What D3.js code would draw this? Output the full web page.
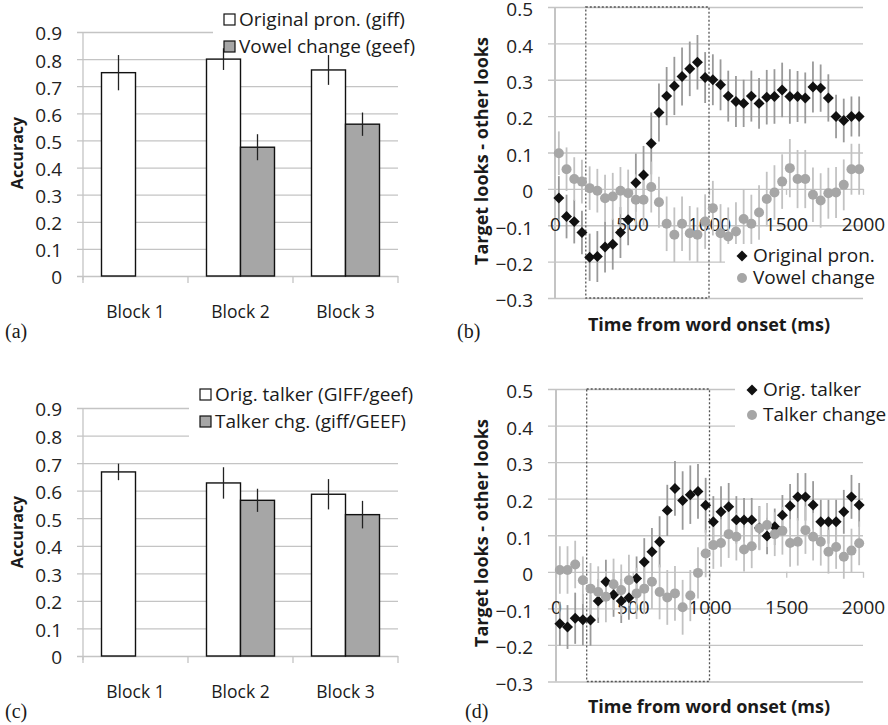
<!DOCTYPE html>
<html>
<head>
<meta charset="utf-8">
<script src="https://cdn.jsdelivr.net/npm/d3@7"></script>
<style>
  body { margin: 0; background: #fff; }
  svg { display: block; }
  text { font-family: "Open Sans", Lato, sans-serif; fill: #1a1a1a; }
</style>
</head>
<body>
<svg width="888" height="725"></svg>
<script>
var width = 888;
var height = 725;

// ---- bar charts (a) and (c)
var blocks = ['Block 1', 'Block 2', 'Block 3'];
var accTicks = [0, 0.1, 0.2, 0.3, 0.4, 0.5, 0.6, 0.7, 0.8, 0.9];

var aOrig = [0.75, 0.80, 0.76];
var aOrigErr = [0.065, 0.04, 0.055];
var aVowel = [null, 0.475, 0.56];
var aVowelErr = [null, 0.048, 0.043];

var cOrig = [0.668, 0.628, 0.587];
var cOrigErr = [0.03, 0.057, 0.055];
var cTalker = [null, 0.565, 0.513];
var cTalkerErr = [null, 0.042, 0.05];

// ---- eye tracking time courses (b) and (d)
var timeMs = [25, 75, 125, 175, 225, 275, 325, 375, 425, 475,
              525, 575, 625, 675, 725, 775, 825, 875, 925, 975,
              1025, 1075, 1125, 1175, 1225, 1275, 1325, 1375, 1425, 1475,
              1525, 1575, 1625, 1675, 1725, 1775, 1825, 1875, 1925, 1975];
var timeTicks = [0, 500, 1000, 1500, 2000];
var lookTicks = [-0.3, -0.2, -0.1, 0, 0.1, 0.2, 0.3, 0.4, 0.5];

var bOrig = [-0.025, -0.076, -0.09, -0.12, -0.188, -0.186, -0.16, -0.152, -0.12, -0.085,
             0.017, 0.038, 0.125, 0.21, 0.255, 0.283, 0.309, 0.33, 0.348, 0.306,
             0.30, 0.286, 0.255, 0.24, 0.235, 0.255, 0.235, 0.252, 0.254, 0.272,
             0.254, 0.254, 0.25, 0.28, 0.277, 0.25, 0.199, 0.188, 0.199, 0.199];
var bOrigErr = [0.06, 0.06, 0.06, 0.06, 0.065, 0.07, 0.07, 0.07, 0.07, 0.07,
                0.08, 0.08, 0.085, 0.08, 0.08, 0.08, 0.08, 0.075, 0.075, 0.07,
                0.07, 0.07, 0.07, 0.07, 0.065, 0.07, 0.07, 0.075, 0.075, 0.075,
                0.075, 0.07, 0.07, 0.07, 0.065, 0.065, 0.06, 0.06, 0.055, 0.055];
var bVowel = [0.098, 0.054, 0.027, 0.02, 0.002, -0.005, -0.026, -0.021, -0.005, -0.012,
              -0.03, -0.03, 0.005, -0.037, -0.096, -0.126, -0.096, -0.122, -0.126, -0.09,
              -0.053, -0.122, -0.131, -0.117, -0.083, -0.096, -0.065, -0.028, -0.01, 0.02,
              0.057, 0.027, 0.027, -0.016, -0.032, -0.012, -0.01, 0.011, 0.054, 0.054];
var bVowelErr = [0.06, 0.06, 0.06, 0.06, 0.06, 0.06, 0.065, 0.065, 0.065, 0.065,
                 0.07, 0.07, 0.07, 0.07, 0.075, 0.075, 0.075, 0.075, 0.075, 0.075,
                 0.075, 0.08, 0.08, 0.08, 0.08, 0.08, 0.075, 0.075, 0.075, 0.075,
                 0.08, 0.08, 0.08, 0.075, 0.075, 0.07, 0.07, 0.07, 0.07, 0.07];

var dOrig = [-0.142, -0.151, -0.127, -0.131, -0.132, -0.08, -0.027, -0.063, -0.08, -0.071,
             -0.018, 0.027, 0.055, 0.082, 0.168, 0.228, 0.195, 0.211, 0.22, 0.182,
             0.137, 0.164, 0.178, 0.142, 0.142, 0.142, 0.12, 0.098, 0.123, 0.155,
             0.18, 0.205, 0.205, 0.183, 0.137, 0.137, 0.137, 0.164, 0.205, 0.183];
var dOrigErr = [0.06, 0.06, 0.07, 0.07, 0.07, 0.06, 0.06, 0.06, 0.06, 0.06,
                0.06, 0.065, 0.065, 0.07, 0.07, 0.075, 0.08, 0.08, 0.075, 0.075,
                0.07, 0.07, 0.065, 0.065, 0.06, 0.06, 0.06, 0.05, 0.05, 0.055,
                0.06, 0.065, 0.065, 0.065, 0.06, 0.06, 0.06, 0.06, 0.06, 0.06];
var dTalker = [0.005, 0.005, 0.02, -0.023, -0.046, -0.055, -0.068, -0.034, -0.05, -0.023,
               -0.059, -0.046, -0.027, -0.055, -0.07, -0.059, -0.097, -0.065, -0.003, 0.05,
               0.073, 0.079, 0.103, 0.096, 0.061, 0.07, 0.119, 0.128, 0.103, 0.112,
               0.079, 0.082, 0.114, 0.096, 0.082, 0.055, 0.068, 0.041, 0.058, 0.078];
var dTalkerErr = [0.065, 0.065, 0.065, 0.065, 0.07, 0.07, 0.07, 0.07, 0.07, 0.07,
                  0.07, 0.07, 0.075, 0.075, 0.075, 0.075, 0.075, 0.07, 0.07, 0.065,
                  0.065, 0.065, 0.065, 0.065, 0.06, 0.06, 0.06, 0.06, 0.06, 0.065,
                  0.065, 0.065, 0.065, 0.065, 0.065, 0.06, 0.06, 0.06, 0.06, 0.06];

var gridColor = '#c4c4c4';
var greyFill = '#a6a6a6';

var svg = d3.select('svg')
      .attr('width', width)
      .attr('height', height);

function barPanel(o) {
  var g = svg.append('g');

  var yScale = d3.scaleLinear()
        .domain([0, 0.9])
        .range([o.y0, o.y9]);

  var xScale = d3.scaleBand()
        .domain(blocks)
        .range([83, 398]);

  var sub = d3.scaleBand()
        .domain([0, 1])
        .range([0, xScale.bandwidth()])
        .paddingOuter(0.544);

  var yAxis = d3.axisLeft(yScale)
        .tickValues(accTicks)
        .tickSize(-(398 - 77))
        .tickPadding(15)
        .tickFormat(d => d === 0 ? '0' : d3.format('.1f')(d));

  var ax = g.append('g')
    .attr('transform', 'translate(77,0)')
    .call(yAxis);
  ax.select('.domain').remove();
  ax.selectAll('line').attr('stroke', gridColor).attr('stroke-width', 1.3);
  ax.selectAll('text').attr('dy', '0.42em').style('font-size', '19px').style('fill', '#222');

  // vertical axis line
  g.append('line')
    .attr('x1', 83).attr('x2', 83)
    .attr('y1', o.y9).attr('y2', o.y0 + 4)
    .attr('stroke', gridColor).attr('stroke-width', 1.3);

  // category ticks
  var edges = blocks.map(b => xScale(b)).concat([xScale.range()[1]]);
  g.selectAll('.ctick')
    .data(edges)
    .enter()
    .append('line')
      .attr('x1', d => d).attr('x2', d => d)
      .attr('y1', o.y0).attr('y2', o.y0 + 7)
      .attr('stroke', gridColor).attr('stroke-width', 1.3);

  g.selectAll('.clabel')
    .data(blocks)
    .enter()
    .append('text')
      .attr('x', d => xScale(d) + xScale.bandwidth() / 2)
      .attr('y', o.labelY)
      .style('text-anchor', 'middle')
      .style('font-size', '17.5px')
      .text(d => d);

  // legend background hides grid lines behind it
  g.append('rect')
    .attr('x', o.legX - 11).attr('y', o.legTop)
    .attr('width', 440 - o.legX).attr('height', o.legBottom - o.legTop)
    .attr('fill', '#fff');

  var series = [
    { vals: o.s1, errs: o.e1, fill: '#fff' },
    { vals: o.s2, errs: o.e2, fill: greyFill }
  ];

  series.forEach(function(s, si) {
    var rows = blocks.map((b, i) => ({ b: b, v: s.vals[i], e: s.errs[i] })).filter(r => r.v !== null);
    g.selectAll('.bar' + si)
      .data(rows)
      .enter()
      .append('rect')
        .attr('x', d => xScale(d.b) + sub(si))
        .attr('y', d => yScale(d.v))
        .attr('width', sub.bandwidth())
        .attr('height', d => yScale(0) - yScale(d.v))
        .attr('fill', s.fill)
        .attr('stroke', '#111')
        .attr('stroke-width', 1.4);
    g.selectAll('.err' + si)
      .data(rows)
      .enter()
      .append('line')
        .attr('x1', d => xScale(d.b) + sub(si) + sub.bandwidth() / 2)
        .attr('x2', d => xScale(d.b) + sub(si) + sub.bandwidth() / 2)
        .attr('y1', d => yScale(d.v + d.e))
        .attr('y2', d => yScale(d.v - d.e))
        .attr('stroke', '#222')
        .attr('stroke-width', 1.3);
  });

  // legend
  [o.leg1, o.leg2].forEach(function(label, i) {
    var yy = o.legY[i];
    g.append('rect')
      .attr('x', o.legX).attr('y', yy - 12)
      .attr('width', 11).attr('height', 11)
      .attr('fill', i === 0 ? '#fff' : greyFill)
      .attr('stroke', '#111').attr('stroke-width', 1.2);
    g.append('text')
      .attr('x', o.legX + 15).attr('y', yy)
      .style('font-size', '19px')
      .text(label);
  });

  //y-axis label
  g.append('text')
    .attr('transform', `translate(17,${o.titleY}) rotate(-90)`)
    .attr('dy', '0.35em')
    .style('text-anchor', 'middle')
    .style('font-size', '16px')
    .style('font-weight', 'bold')
    .text('Accuracy');

  g.append('text')
    .attr('x', 5).attr('y', o.tagY)
    .style('font-family', '"Liberation Serif", "DejaVu Serif", serif')
    .style('font-size', '20px')
    .text(o.tag);
}

function scatterPanel(o) {
  var g = svg.append('g');

  var yScale = d3.scaleLinear()
        .domain([-0.3, 0.5])
        .range([o.yb, o.yt]);

  var xScale = d3.scaleLinear()
        .domain([0, 2000])
        .range([o.x0, o.x1]);

  var yAxis = d3.axisLeft(yScale)
        .tickValues(lookTicks)
        .tickSize(-(o.x1 - 548))
        .tickPadding(15)
        .tickFormat(d => d === 0 ? '0' : d3.format('.1f')(d));

  var ax = g.append('g')
    .attr('transform', 'translate(548,0)')
    .call(yAxis);
  ax.select('.domain').remove();
  ax.selectAll('line').attr('stroke', gridColor).attr('stroke-width', 1.3);
  ax.selectAll('text').attr('dy', '0.46em').style('font-size', '19px').style('fill', '#222');

  // vertical axis at time 0
  g.append('line')
    .attr('x1', xScale(0)).attr('x2', xScale(0))
    .attr('y1', o.yt).attr('y2', o.yb)
    .attr('stroke', gridColor).attr('stroke-width', 2);

  // time axis along zero
  var xAxis = d3.axisBottom(xScale)
        .tickValues(timeTicks)
        .tickSize(6)
        .tickPadding(23)
        .tickFormat(d3.format('d'));
  var xa = g.append('g')
    .attr('transform', `translate(0,${yScale(0)})`)
    .call(xAxis);
  xa.select('.domain').remove();
  xa.selectAll('line').attr('stroke', gridColor).attr('stroke-width', 1.3);
  xa.selectAll('text').style('font-size', '19px').style('fill', '#222');

  // analysis window
  g.append('rect')
    .attr('x', xScale(200)).attr('y', yScale(0.5))
    .attr('width', xScale(1000) - xScale(200))
    .attr('height', yScale(-0.3) - yScale(0.5))
    .attr('fill', 'none')
    .attr('stroke', '#555')
    .attr('stroke-width', 1.3)
    .attr('stroke-dasharray', '2,2');

  var rows1 = timeMs.map((t, i) => ({ t: t, v: o.s1[i], e: o.e1[i] }));
  var rows2 = timeMs.map((t, i) => ({ t: t, v: o.s2[i], e: o.e2[i] }));

  g.selectAll('.err1')
    .data(rows1)
    .enter()
    .append('line')
      .attr('x1', d => xScale(d.t)).attr('x2', d => xScale(d.t))
      .attr('y1', d => yScale(d.v + d.e)).attr('y2', d => yScale(d.v - d.e))
      .attr('stroke', '#9a9a9a').attr('stroke-width', 1.8);
  g.selectAll('.err2')
    .data(rows2)
    .enter()
    .append('line')
      .attr('x1', d => xScale(d.t)).attr('x2', d => xScale(d.t))
      .attr('y1', d => yScale(d.v + d.e)).attr('y2', d => yScale(d.v - d.e))
      .attr('stroke', '#c2c2c2').attr('stroke-width', 1.8);

  var diamond = d3.symbol().type(d3.symbolSquare).size(60);

  g.selectAll('.pt1')
    .data(rows1)
    .enter()
    .append('path')
      .attr('d', diamond)
      .attr('transform', d => `translate(${xScale(d.t)},${yScale(d.v)}) rotate(45)`)
      .attr('fill', '#111');

  g.selectAll('.pt2')
    .data(rows2)
    .enter()
    .append('circle')
      .attr('cx', d => xScale(d.t))
      .attr('cy', d => yScale(d.v))
      .attr('r', 5)
      .attr('fill', greyFill);

  // legend
  g.append('rect')
    .attr('x', o.legX - 17).attr('y', o.legTop)
    .attr('width', 888 - o.legX + 17).attr('height', o.legBottom - o.legTop)
    .attr('fill', '#fff');
  g.append('path')
    .attr('d', diamond)
    .attr('transform', `translate(${o.legX},${o.legY[0] - 6}) rotate(45)`)
    .attr('fill', '#111');
  g.append('circle')
    .attr('cx', o.legX).attr('cy', o.legY[1] - 6)
    .attr('r', 5).attr('fill', greyFill);
  [o.leg1, o.leg2].forEach(function(label, i) {
    g.append('text')
      .attr('x', o.legX + 11).attr('y', o.legY[i])
      .style('font-size', '19px')
      .text(label);
  });

  //y-axis label
  g.append('text')
    .attr('transform', `translate(482,${o.titleY}) rotate(-90)`)
    .attr('dy', '0.35em')
    .style('text-anchor', 'middle')
    .style('font-size', '18px')
    .style('font-weight', 'bold')
    .text('Target looks - other looks');

  //x-axis label
  g.append('text')
    .attr('x', 709).attr('y', o.xTitleY)
    .style('text-anchor', 'middle')
    .style('font-size', '18px')
    .style('font-weight', 'bold')
    .text('Time from word onset (ms)');

  g.append('text')
    .attr('x', o.tagX).attr('y', o.tagY)
    .style('font-family', '"Liberation Serif", "DejaVu Serif", serif')
    .style('font-size', '20px')
    .text(o.tag);
}

barPanel({
  y0: 276, y9: 32, labelY: 318,
  s1: aOrig, e1: aOrigErr, s2: aVowel, e2: aVowelErr,
  leg1: 'Original pron. (giff)', leg2: 'Vowel change (geef)',
  legX: 224, legY: [26, 53], legTop: 0, legBottom: 61,
  titleY: 153, tag: '(a)', tagY: 338
});

barPanel({
  y0: 656, y9: 408, labelY: 698,
  s1: cOrig, e1: cOrigErr, s2: cTalker, e2: cTalkerErr,
  leg1: 'Orig. talker (GIFF/geef)', leg2: 'Talker chg. (giff/GEEF)',
  legX: 200, legY: [401, 428], legTop: 376, legBottom: 441,
  titleY: 532, tag: '(c)', tagY: 718
});

scatterPanel({
  yt: 7, yb: 298, x0: 555, x1: 863,
  s1: bOrig, e1: bOrigErr, s2: bVowel, e2: bVowelErr,
  leg1: 'Original pron.', leg2: 'Vowel change',
  legX: 742, legY: [262, 284], legTop: 244, legBottom: 292,
  titleY: 151, xTitleY: 331, tag: '(b)', tagX: 457, tagY: 338
});

scatterPanel({
  yt: 389, yb: 681.5, x0: 556, x1: 863,
  s1: dOrig, e1: dOrigErr, s2: dTalker, e2: dTalkerErr,
  leg1: 'Orig. talker', leg2: 'Talker change',
  legX: 752, legY: [396, 421], legTop: 374, legBottom: 432,
  titleY: 533, xTitleY: 713, tag: '(d)', tagX: 465, tagY: 718
});
</script>
</body>
</html>
